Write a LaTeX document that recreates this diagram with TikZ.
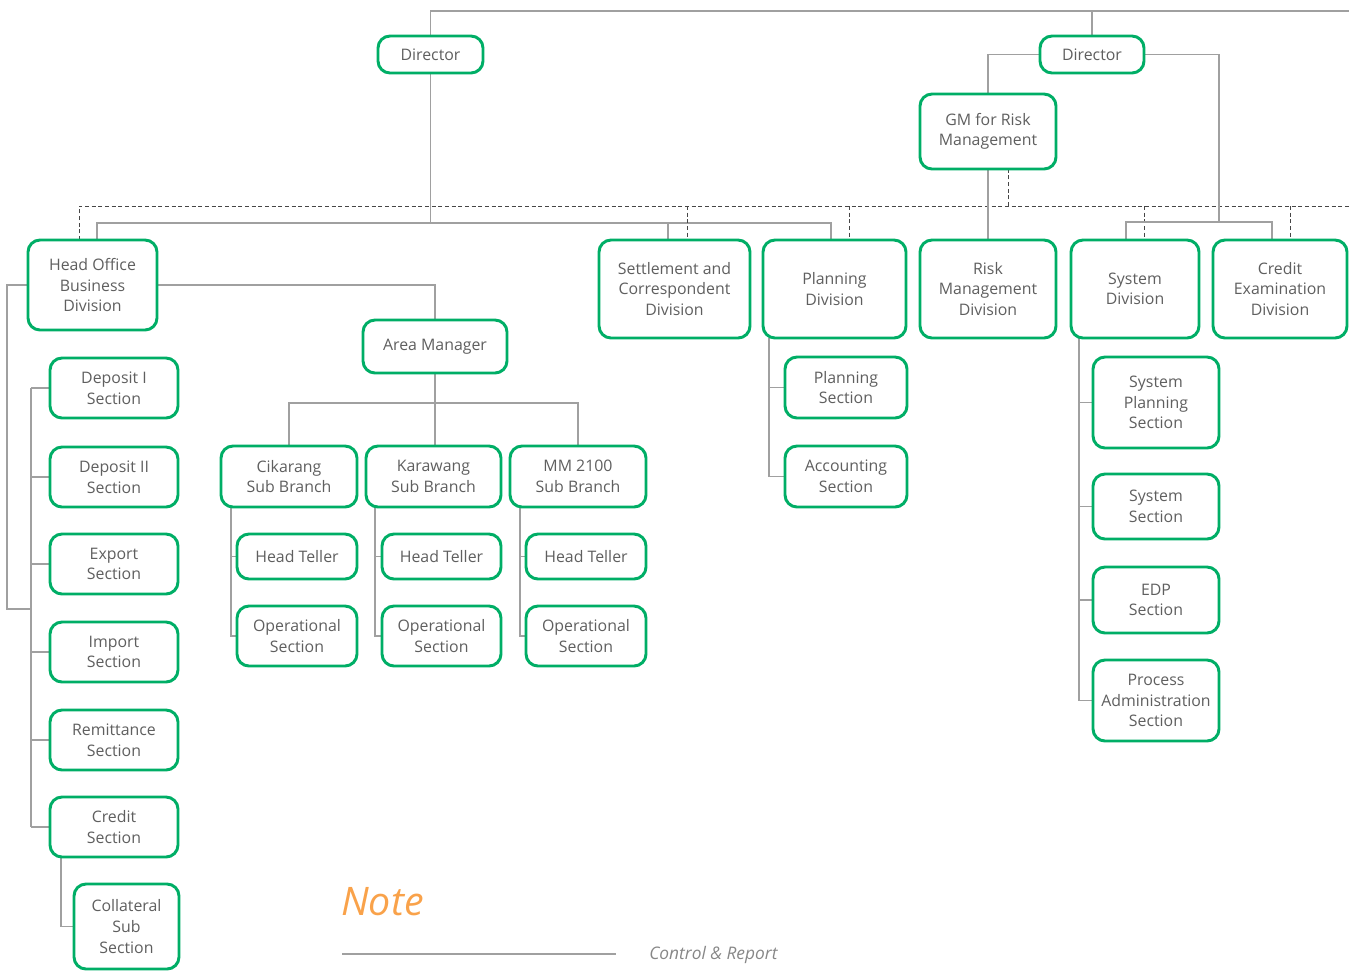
\documentclass[tikz,border=0pt]{standalone}
\usepackage{fontspec}
\setmainfont{Open Sans}
\usetikzlibrary{calc,backgrounds}
\definecolor{boxgreen}{RGB}{0,174,102}
\definecolor{txtgray}{RGB}{95,95,95}
\definecolor{lngray}{RGB}{160,160,160}
\definecolor{dshgray}{RGB}{70,70,70}
\definecolor{noteorange}{RGB}{249,162,74}
\definecolor{legendgray}{RGB}{135,135,135}
\tikzset{
  box/.style={draw=boxgreen,line width=2.2pt,rounded corners=9pt,fill=white,
    inner sep=0pt,outer sep=0pt,align=center,text=txtgray,
    font=\fontsize{11.9}{15.4}\selectfont},
  ln/.style={draw=lngray,line width=1pt},
  dsh/.style={draw=dshgray,line width=0.7pt,dash pattern=on 3pt off 2pt},
}
\newcommand\bx[6]{\node[box,minimum width={(#4-#2)*0.75pt},minimum height={(#5-#3)*0.75pt}] (#1) at ({(#2+#4)/2},{(#3+#5)/2}) {#6};}
\begin{document}
\begin{tikzpicture}[x=0.75pt,y=-0.75pt]
\useasboundingbox (0,0) rectangle (1349,972);
% boxes
\bx{d1}{378}{36}{483}{73}{Director}
\bx{d2}{1040}{36}{1144}{73}{Director}
\bx{gm}{920}{94}{1056}{169}{GM for Risk\\Management}
\bx{hob}{28}{240}{157}{330}{Head Office\\Business\\Division}
\bx{scd}{599}{240}{750}{338}{Settlement and\\Correspondent\\Division}
\bx{pld}{763}{240}{906}{338}{Planning\\Division}
\bx{rmd}{920}{240}{1056}{338}{Risk\\Management\\Division}
\bx{sd}{1071}{240}{1199}{338}{System\\Division}
\bx{ced}{1213}{240}{1347}{338}{Credit\\Examination\\Division}
\bx{am}{363}{320}{507}{373}{Area Manager}
\bx{dep1}{50}{358}{178}{418}{Deposit I\\Section}
\bx{dep2}{50}{447}{178}{507}{Deposit II\\Section}
\bx{exp}{50}{534}{178}{594}{Export\\Section}
\bx{imp}{50}{622}{178}{682}{Import\\Section}
\bx{rem}{50}{710}{178}{770}{Remittance\\Section}
\bx{cred}{50}{797}{178}{857}{Credit\\Section}
\bx{coll}{74}{884}{179}{969}{Collateral\\Sub\\Section}
\bx{cik}{221}{446}{357}{507}{Cikarang\\Sub Branch}
\bx{kar}{366}{446}{501}{507}{Karawang\\Sub Branch}
\bx{mm}{510}{446}{646}{507}{MM 2100\\Sub Branch}
\bx{ht1}{237}{534}{357}{579}{Head Teller}
\bx{ht2}{382}{534}{501}{579}{Head Teller}
\bx{ht3}{526}{534}{646}{579}{Head Teller}
\bx{op1}{237}{606}{357}{666}{Operational\\Section}
\bx{op2}{382}{606}{501}{666}{Operational\\Section}
\bx{op3}{526}{606}{646}{666}{Operational\\Section}
\bx{pls}{785}{357}{907}{418}{Planning\\Section}
\bx{acc}{785}{446}{907}{507}{Accounting\\Section}
\bx{sps}{1093}{357}{1219}{448}{System\\Planning\\Section}
\bx{ss}{1093}{474}{1219}{539}{System\\Section}
\bx{edp}{1093}{567}{1219}{633}{EDP\\Section}
\bx{pas}{1093}{660}{1219}{741}{Process\\Administration\\Section}
% legend
\node[anchor=west,text=noteorange,font=\fontsize{29.5}{31}\itshape\selectfont,inner sep=0pt] (note) at (341,902) {Note};
\node[anchor=west,text=legendgray,font=\fontsize{13}{15}\itshape\selectfont,inner sep=0pt] (ctrl) at (649,955) {Control \& Report};
\coordinate (lg1) at (342,954);
\coordinate (lg2) at (616,954);
\draw[ln] (lg1) -- (lg2);
% connectors
\begin{scope}[on background layer]
\coordinate (topR) at (1349,11);
\draw[ln] (d1.north) -- (d1.north |- topR) -- (topR);
\draw[ln] (d2.north) -- (d2.north |- topR);
% solid bus under director 1
\coordinate (sA1) at (97,223);
\coordinate (sA2) at (668,223);
\coordinate (sA3) at (831,223);
\draw[ln] (d1.south) -- (d1.south |- sA1);
\draw[ln] (hob.north -| sA1) -- (sA1) -- (sA3) -- (sA3 |- pld.north);
\draw[ln] (sA2) -- (sA2 |- scd.north);
% dashed bus
\coordinate (dB0) at (79,206);
\coordinate (dB1) at (687,206);
\coordinate (dB2) at (849,206);
\coordinate (dBg) at (1008,206);
\coordinate (dB3) at (1144,206);
\coordinate (dB4) at (1290,206);
\coordinate (dBR) at (1349,206);
\draw[dsh] (hob.north -| dB0) -- (dB0) -- (dBR);
\draw[dsh] (dB1) -- (dB1 |- scd.north);
\draw[dsh] (dB2) -- (dB2 |- pld.north);
\draw[dsh] (dBg) -- (dBg |- gm.south);
\draw[dsh] (dB3) -- (dB3 |- sd.north);
\draw[dsh] (dB4) -- (dB4 |- ced.north);
% director 2
\coordinate (cR) at (1219,222);
\coordinate (cB1) at (1126,222);
\coordinate (cB2) at (1272,222);
\draw[ln] (d2.west) -| (gm.north);
\draw[ln] (gm.south) -- (rmd.north);
\draw[ln] (d2.east) -| (cR);
\draw[ln] (sd.north -| cB1) -- (cB1) -- (cB2) -- (cB2 |- ced.north);
% head office
\draw[ln] (hob.east) -| (am.north);
\coordinate (oL) at (7,609);
\coordinate (tk) at (31,0);
\draw[ln] (hob.west) -| (oL) -- (oL -| tk);
\draw[ln] (dep1.west -| tk) -- (cred.west -| tk);
\foreach \s in {dep1,dep2,exp,imp,rem,cred} \draw[ln] (\s.west) -- (\s.west -| tk);
\coordinate (cc) at (61,0);
\draw[ln] (cred.south -| cc) |- (coll.west);
% area manager
\draw[ln] (am.south) -- (am.south |- kar.north);
\path (am.south) ++(0,30) coordinate (ab);
\draw[ln] (cik.north) |- (ab) -| (mm.north);
\draw[ln] ($(cik.south west)+(10,0)$) coordinate (t1) |- (op1.west);
\draw[ln] (ht1.west) -- (ht1.west -| t1);
\draw[ln] ($(kar.south west)+(9,0)$) coordinate (t2) |- (op2.west);
\draw[ln] (ht2.west) -- (ht2.west -| t2);
\draw[ln] ($(mm.south west)+(10,0)$) coordinate (t3) |- (op3.west);
\draw[ln] (ht3.west) -- (ht3.west -| t3);
% planning division
\draw[ln] ($(pld.south west)+(6,0)$) coordinate (t4) |- (acc.west);
\draw[ln] (pls.west) -- (pls.west -| t4);
% system division
\draw[ln] ($(sd.south west)+(8,0)$) coordinate (t5) |- (pas.west);
\foreach \s in {sps,ss,edp} \draw[ln] (\s.west) -- (\s.west -| t5);
\end{scope}
\end{tikzpicture}
\end{document}
